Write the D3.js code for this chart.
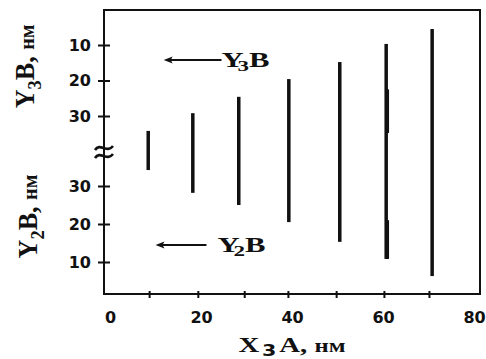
<!DOCTYPE html>
<html>
<head>
<meta charset="utf-8">
<script src="https://cdn.jsdelivr.net/npm/d3@7"></script>
<style>
  body { margin: 0; background: #fff; }
  .tick text { font-family: 'DejaVu Sans', sans-serif; font-weight: bold; font-size: 16px; fill: #111; }
  .ttl { font-family: 'Liberation Serif', 'Times New Roman', serif; font-weight: bold; fill: #111; }
</style>
</head>
<body>
<svg id="chart" width="486" height="359"></svg>
<script>
// + -- data --------------------------------------------------------------- +
const barX = [8.4, 18.2, 28.3, 39.3, 50.5, 60.7, 70.8]      // X3A, nm
const barY3 = [34.2, 29.2, 24.6, 19.6, 14.8, 9.7, 5.5]      // upper end, Y3B nm
const barY2 = [34.2, 28.2, 25.0, 20.5, 15.3, 10.8, 6.3]     // lower end, Y2B nm
const xLabels = [0, 20, 40, 60, 80]
const xMarks = [8.6, 19.3, 29.5, 39.1, 49.7, 60.2, 70.1]
const y3Ticks = [10, 20, 30]
const y2Ticks = [30, 20, 10]
// the 60 nm bar is drawn twice, slightly offset
const dupX = 61.0
const dupY3 = [22.5, 34.8]
const dupY2 = [21.0, 10.8]
// arrows: [from x, to x, level]
const arrowY3 = [24.5, 11.8, 14.2]
const arrowY2 = [21.2, 10.0, 14.5]

const svg = d3.select('#chart')
const L = 104, R = 480, T = 10, B = 294

const x = d3.scaleLinear().domain([0, 80]).range([110, 474])
const yUp = d3.scaleLinear().domain([10, 30]).range([45, 116])
const yLo = d3.scaleLinear().domain([10, 30]).range([262, 186])

// frame
svg.append('rect')
  .attr('x', L).attr('y', T).attr('width', R - L).attr('height', B - T)
  .attr('fill', 'none').attr('stroke', '#111').attr('stroke-width', 2)

// x axis labels
svg.append('g')
  .attr('transform', 'translate(0,' + B + ')')
  .call(d3.axisBottom(x).tickValues(xLabels).tickSize(0).tickPadding(18))
  .call(g => g.select('.domain').remove())

// x axis tick marks (crossing the axis)
svg.append('g')
  .attr('transform', 'translate(0,' + (B - 3) + ')')
  .call(d3.axisBottom(x).tickValues(xMarks).tickSize(7).tickFormat(''))
  .call(g => g.select('.domain').remove())
  .selectAll('line').attr('stroke', '#111').attr('stroke-width', 2)

// y axes, ticks cross the left line
const yAxisUp = svg.append('g')
  .attr('transform', 'translate(' + (L + 6) + ',0)')
  .call(d3.axisLeft(yUp).tickValues(y3Ticks).tickSize(12).tickPadding(7))
const yAxisLo = svg.append('g')
  .attr('transform', 'translate(' + (L + 6) + ',0)')
  .call(d3.axisLeft(yLo).tickValues(y2Ticks).tickSize(12).tickPadding(7))
;[yAxisUp, yAxisLo].forEach(g => {
  g.select('.domain').remove()
  g.selectAll('line').attr('stroke', '#111').attr('stroke-width', 2)
})

// axis break
const brk = svg.append('g').attr('transform', 'translate(' + L + ',' + 152 + ')')
;[-4, 4].forEach(dy => {
  brk.append('path')
    .attr('d', 'M-9,' + (dy + 2) + ' C-4,' + (dy - 6) + ' 3,' + (dy + 6) + ' 9,' + (dy - 2))
    .attr('fill', 'none').attr('stroke', '#111').attr('stroke-width', 2.6)
})

// bars
svg.append('g').selectAll('line')
  .data(barX)
  .join('line')
  .attr('x1', d => x(d)).attr('x2', d => x(d))
  .attr('y1', (d, i) => yUp(barY3[i]))
  .attr('y2', (d, i) => yLo(barY2[i]))
  .attr('stroke', '#111').attr('stroke-width', 3.5)

svg.append('line')
  .attr('x1', x(dupX)).attr('x2', x(dupX))
  .attr('y1', yUp(dupY3[0])).attr('y2', yUp(dupY3[1]))
  .attr('stroke', '#111').attr('stroke-width', 3)
svg.append('line')
  .attr('x1', x(dupX)).attr('x2', x(dupX))
  .attr('y1', yLo(dupY2[0])).attr('y2', yLo(dupY2[1]))
  .attr('stroke', '#111').attr('stroke-width', 3)

// arrows with labels
function arrow (a, y, sub, gap) {
  let tip = x(a[1]), yy = y(a[2])
  svg.append('line')
    .attr('x1', x(a[0])).attr('x2', tip + 6)
    .attr('y1', yy).attr('y2', yy)
    .attr('stroke', '#111').attr('stroke-width', 2)
  svg.append('path')
    .attr('d', 'M' + tip + ',' + yy + ' L' + (tip + 9) + ',' + (yy - 3.5) +
      ' L' + (tip + 7) + ',' + yy + ' L' + (tip + 9) + ',' + (yy + 3.5) + ' Z')
    .attr('fill', '#111')
  let t = svg.append('text').attr('class', 'ttl')
    .attr('x', x(a[0]) + gap).attr('y', yy + 7)
    .attr('font-size', 20)
    .attr('textLength', 48).attr('lengthAdjust', 'spacingAndGlyphs')
  t.append('tspan').text('Y')
  t.append('tspan').attr('dy', 4).attr('dx', -4).attr('font-size', 15).text(sub)
  t.append('tspan').attr('dy', -4).text('B')
}
arrow(arrowY3, yUp, '3', 0)
arrow(arrowY2, yLo, '2', 11)

// axis titles
function yTitle (cx, cy, sub) {
  let t = svg.append('text').attr('class', 'ttl')
    .attr('transform', 'translate(' + cx + ',' + cy + ') rotate(-90)')
    .attr('text-anchor', 'middle')
    .attr('font-size', 27)
    .attr('textLength', 84).attr('lengthAdjust', 'spacingAndGlyphs')
  t.append('tspan').text('Y')
  t.append('tspan').attr('dy', 7).attr('font-size', 19).text(sub)
  t.append('tspan').attr('dy', -7).text('B, ')
  t.append('tspan').attr('font-size', 21).text('нм')
}
yTitle(34, yUp(16), '3')
yTitle(37, yLo(22), '2')

let xt = svg.append('text').attr('class', 'ttl')
  .attr('x', x(40)).attr('y', 352)
  .attr('text-anchor', 'middle')
  .attr('font-size', 21)
  .attr('textLength', 107).attr('lengthAdjust', 'spacingAndGlyphs')
xt.append('tspan').text('X')
xt.append('tspan').attr('dy', 4).attr('dx', 2)
  .attr('font-family', 'DejaVu Sans, sans-serif').attr('font-size', 15).text('3')
xt.append('tspan').attr('dy', -4).attr('dx', 2).text('A, ')
xt.append('tspan').attr('font-size', 18).text('нм')
</script>
</body>
</html>
